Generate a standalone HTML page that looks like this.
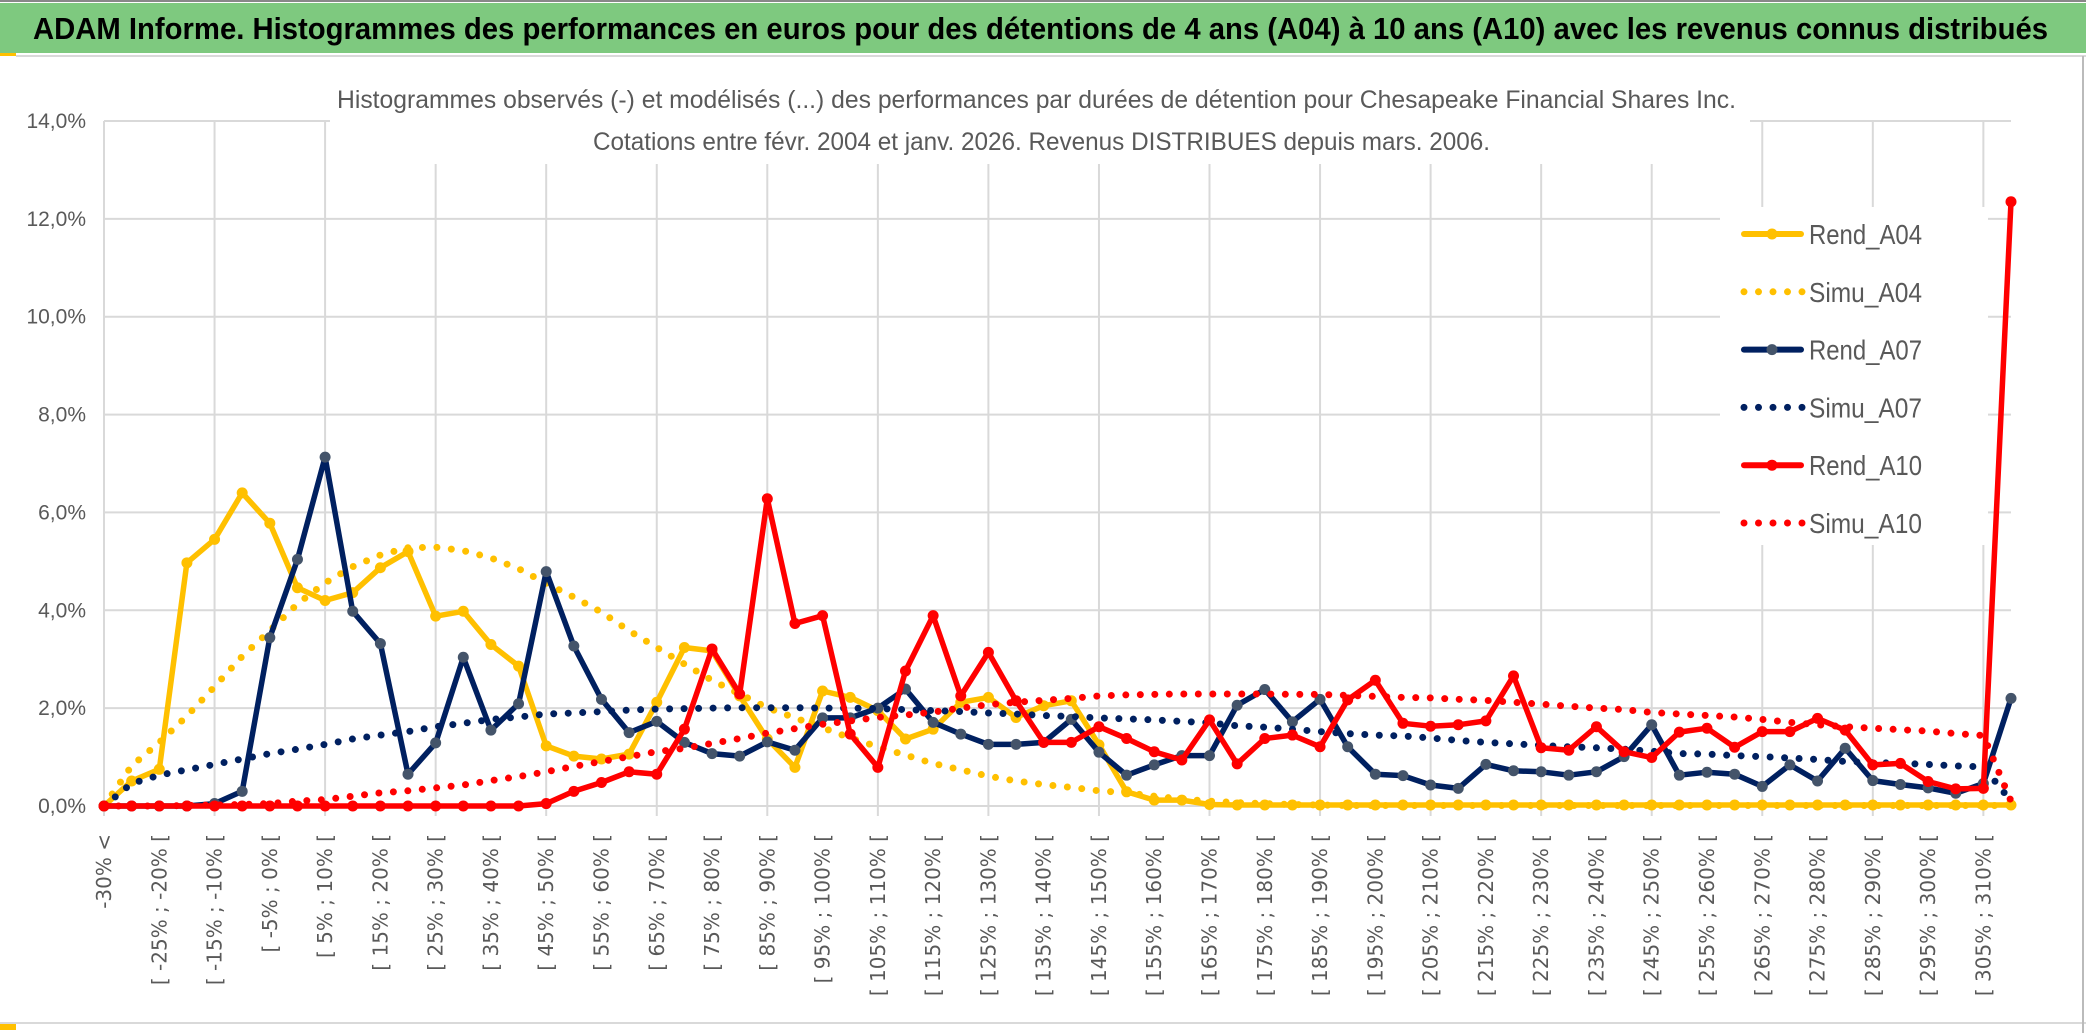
<!DOCTYPE html>
<html><head><meta charset="utf-8"><title>ADAM Informe</title>
<style>
html,body{margin:0;padding:0;background:#fff;}
body{width:2086px;height:1033px;overflow:hidden;position:relative;font-family:"Liberation Sans",sans-serif;}
svg{position:absolute;left:0;top:0;}
</style></head>
<body>
<svg id="chart" width="2086" height="1033" viewBox="0 0 2086 1033" xmlns="http://www.w3.org/2000/svg">
  <rect x="0" y="0" width="2086" height="1033" fill="#fff"/>
  <line x1="0" y1="1" x2="2086" y2="1" stroke="#888" stroke-width="2"/>
  <rect x="0" y="3" width="2086" height="50" fill="#7EC97F"/>
  <rect x="0" y="53" width="16" height="3" fill="#FFC000"/>
  <line x1="16" y1="56" x2="2086" y2="56" stroke="#D9D9D9" stroke-width="2"/>
  <text x="33" y="39" font-family="'Liberation Sans Narrow','Liberation Sans',sans-serif" font-weight="bold" font-size="31" fill="#000" textLength="2015" lengthAdjust="spacingAndGlyphs">ADAM Informe. Histogrammes des performances en euros pour des détentions de 4 ans (A04) à 10 ans (A10) avec les revenus connus distribués</text>
  <g id="grid"></g>
  <rect x="330" y="62" width="1420" height="102" fill="#fff"/>
  <text x="337" y="108" font-family="'Liberation Sans Narrow','Liberation Sans',sans-serif" font-size="25" fill="#595959" textLength="1399" lengthAdjust="spacingAndGlyphs">Histogrammes observés (-) et modélisés (...) des performances par durées de détention pour Chesapeake Financial Shares Inc.</text>
  <text x="593" y="150" font-family="'Liberation Sans Narrow','Liberation Sans',sans-serif" font-size="25" fill="#595959" textLength="897" lengthAdjust="spacingAndGlyphs">Cotations entre févr. 2004 et janv. 2026. Revenus DISTRIBUES depuis mars. 2006.</text>
  <g id="yaxis"></g>
  <g id="xaxis"></g>
  <g id="series"></g>
  <g id="legend">
    <rect x="1720" y="207" width="268" height="338" fill="#fff"/>
  </g>
  <line x1="0" y1="1023" x2="2086" y2="1023" stroke="#D9D9D9" stroke-width="2"/>
  <rect x="0" y="1024" width="16" height="6" fill="#FFC000"/>
  <line x1="2083" y1="56" x2="2083" y2="1033" stroke="#BBB" stroke-width="2"/>
</svg>
<script>
const categories = ["-30% <"];
for (let k = 1; k < 70; k++) { const a = -30 + 5 * (k - 1); categories.push("[ " + a + "% ; " + (a + 5) + "% ["); }
const yTicks = [0, 2, 4, 6, 8, 10, 12, 14];
const yTickLabels = ["0,0%", "2,0%", "4,0%", "6,0%", "8,0%", "10,0%", "12,0%", "14,0%"];
const rendA04 = [0,0.51,0.75,4.97,5.45,6.4,5.78,4.46,4.2,4.36,4.87,5.2,3.88,3.98,3.3,2.86,1.23,1.02,0.96,1.06,2.12,3.24,3.17,2.25,1.37,0.79,2.35,2.22,1.95,1.37,1.57,2.12,2.22,1.81,2.05,2.15,1.25,0.29,0.12,0.12,0.03,0.02,0.02,0.02,0.02,0.02,0.02,0.02,0.02,0.02,0.02,0.02,0.02,0.02,0.02,0.02,0.02,0.02,0.02,0.02,0.02,0.02,0.02,0.02,0.02,0.02,0.02,0.02,0.02,0.02];
const simuA04 = [0,0.82,1.30,1.84,2.44,3.06,3.58,4.13,4.56,4.89,5.13,5.28,5.29,5.22,5.07,4.85,4.55,4.27,3.96,3.58,3.24,2.90,2.57,2.29,2.01,1.80,1.60,1.39,1.21,1.04,0.87,0.74,0.61,0.51,0.44,0.38,0.31,0.27,0.2,0.14,0.1,0.07,0.05,0.03,0.02,0.01,0.01,0.01,0.01,0.01,0.01,0.01,0.01,0.01,0.01,0.01,0.01,0.01,0.01,0.01,0.01,0.01,0.01,0.01,0.01,0.01,0.01,0.01,0.01,0.01];
const rendA07 = [0,0,0,0,0.05,0.3,3.44,5.04,7.13,3.98,3.32,0.65,1.29,3.04,1.55,2.09,4.79,3.27,2.18,1.5,1.73,1.30,1.07,1.02,1.31,1.14,1.80,1.80,2.0,2.39,1.71,1.47,1.26,1.26,1.30,1.77,1.10,0.63,0.84,1.03,1.03,2.06,2.38,1.72,2.18,1.21,0.65,0.62,0.43,0.36,0.85,0.72,0.70,0.63,0.70,1.01,1.66,0.63,0.69,0.65,0.40,0.84,0.51,1.18,0.52,0.44,0.37,0.26,0.46,2.20];
const simuA07 = [0,0.46,0.63,0.74,0.85,0.96,1.07,1.16,1.26,1.37,1.45,1.52,1.62,1.69,1.77,1.82,1.88,1.90,1.93,1.96,1.98,1.99,2.0,2.01,2.01,2.01,2.0,2.0,1.99,1.97,1.95,1.93,1.9,1.88,1.85,1.83,1.80,1.78,1.76,1.73,1.70,1.64,1.61,1.57,1.52,1.48,1.45,1.43,1.39,1.34,1.30,1.27,1.24,1.21,1.19,1.16,1.12,1.07,1.06,1.03,1.01,0.98,0.95,0.91,0.89,0.87,0.85,0.82,0.80,0.1];
const rendA10 = [0,0,0,0,0,0,0,0,0,0,0,0,0,0,0,0,0.05,0.3,0.48,0.70,0.65,1.57,3.21,2.29,6.28,3.73,3.89,1.47,0.79,2.76,3.89,2.25,3.14,2.15,1.30,1.30,1.62,1.38,1.11,0.94,1.76,0.86,1.38,1.45,1.21,2.17,2.57,1.69,1.63,1.66,1.74,2.66,1.19,1.14,1.62,1.11,0.99,1.51,1.59,1.20,1.52,1.52,1.79,1.55,0.84,0.87,0.50,0.35,0.36,12.35];
const simuA10 = [0,0,0,0.01,0.02,0.03,0.05,0.1,0.13,0.2,0.27,0.31,0.37,0.43,0.52,0.6,0.7,0.81,0.91,1.01,1.11,1.18,1.28,1.38,1.49,1.58,1.67,1.74,1.81,1.86,1.92,2.0,2.07,2.12,2.16,2.2,2.25,2.27,2.28,2.29,2.29,2.29,2.29,2.28,2.28,2.26,2.24,2.22,2.21,2.18,2.16,2.12,2.08,2.04,2.00,1.97,1.91,1.88,1.85,1.82,1.77,1.71,1.66,1.62,1.59,1.56,1.53,1.48,1.44,0.1];

const NS = "http://www.w3.org/2000/svg";
const X0 = 104, X1 = 2011, Y0 = 806, YTOP = 121, VMAX = 14;
function xPos(i) { return X0 + (X1 - X0) * i / (categories.length - 1); }
function yPos(v) { return Y0 - (Y0 - YTOP) * v / VMAX; }
function mk(tag, attrs, parent) { const e = document.createElementNS(NS, tag); for (const k in attrs) e.setAttribute(k, attrs[k]); parent.appendChild(e); return e; }

const grid = document.getElementById("grid");
yTicks.forEach(function (t) {
  const l = mk("line", {x1: X0, x2: X1, y1: yPos(t), y2: yPos(t), stroke: "#D9D9D9", "stroke-width": 2}, grid);
  
  
});
for (let i = 0; i < categories.length; i += 4) {
  const l = mk("line", {x1: xPos(i), x2: xPos(i), y1: YTOP, y2: Y0 + 10, stroke: "#D9D9D9", "stroke-width": 2}, grid);
  
  
}

const yaxis = document.getElementById("yaxis");
yTicks.forEach(function (t, k) {
  const tx = mk("text", {x: 86, y: yPos(t) + 7, "text-anchor": "end", "font-family": "'Liberation Sans Narrow','Liberation Sans',sans-serif", "font-size": 21, fill: "#595959"}, yaxis);
  tx.textContent = yTickLabels[k];
  
  
});

const xaxis = document.getElementById("xaxis");
for (let i = 0; i < categories.length; i += 2) {
  const x = xPos(i) + 7, y = 834;
  const tx = mk("text", {x: x, y: y, "text-anchor": "end", transform: "rotate(-90 " + x + " " + y + ")", "font-family": "'DejaVu Sans',sans-serif", "font-size": 20, fill: "#595959"}, xaxis);
  tx.textContent = categories[i];
  
  
}

const seriesG = document.getElementById("series");
function pts(arr) { return arr.map(function (v, i) { return xPos(i).toFixed(1) + "," + yPos(v).toFixed(1); }).join(" "); }
function drawSolid(arr, color, mcolor, name) {
  const g = mk("g", {}, seriesG);
  
  
  const pl = mk("polyline", {points: pts(arr), fill: "none", stroke: color, "stroke-width": 5.5, "stroke-linejoin": "round"}, g);
  
  
  arr.forEach(function (v, i) {
    const c = mk("circle", {cx: xPos(i), cy: yPos(v), r: 5.5, fill: mcolor}, g);
    
    
  });
}
function drawDotted(arr, color, name) {
  const pl = mk("polyline", {points: pts(arr), fill: "none", stroke: color, "stroke-width": 7, "stroke-linecap": "round", "stroke-dasharray": "0 14.5"}, seriesG);
  
  
}
drawSolid(rendA04, "#FFC000", "#FFC000", "rend-a04");
drawDotted(simuA04, "#FFC000", "simu-a04");
drawSolid(rendA07, "#002060", "#44546A", "rend-a07");
drawDotted(simuA07, "#002060", "simu-a07");
drawSolid(rendA10, "#FF0000", "#FF0000", "rend-a10");
drawDotted(simuA10, "#FF0000", "simu-a10");

const legend = document.getElementById("legend");
const legNames = ["Rend_A04", "Simu_A04", "Rend_A07", "Simu_A07", "Rend_A10", "Simu_A10"];
const legColors = ["#FFC000", "#FFC000", "#002060", "#002060", "#FF0000", "#FF0000"];
const legMarker = ["#FFC000", null, "#44546A", null, "#FF0000", null];
legNames.forEach(function (n, k) {
  const y = 234 + k * 57.8;
  const g = mk("g", {}, legend);
  
  
  if (legMarker[k]) {
    mk("line", {x1: 1744, x2: 1801, y1: y, y2: y, stroke: legColors[k], "stroke-width": 6, "stroke-linecap": "round"}, g);
    mk("circle", {cx: 1772, cy: y, r: 5.5, fill: legMarker[k]}, g);
  } else {
    mk("line", {x1: 1744, x2: 1804, y1: y, y2: y, stroke: legColors[k], "stroke-width": 7, "stroke-linecap": "round", "stroke-dasharray": "0 14.5"}, g);
  }
  const tx = mk("text", {x: 1809, y: y + 10, "font-family": "'Liberation Sans Narrow','Liberation Sans',sans-serif", "font-size": 28, fill: "#595959", textLength: 113, lengthAdjust: "spacingAndGlyphs"}, g);
  tx.textContent = n;
  
  
});
</script>
</body></html>
